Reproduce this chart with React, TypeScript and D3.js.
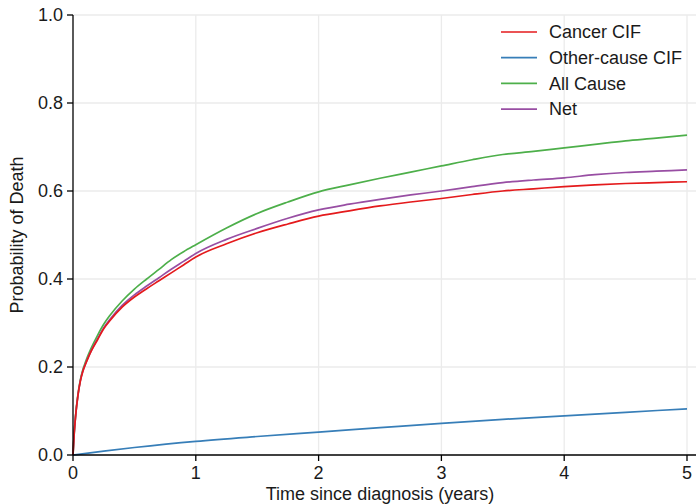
import React from "react";
import * as d3 from "d3";

const timesMain = [0, 0.01, 0.02, 0.04, 0.06, 0.08, 0.1, 0.125, 0.15, 0.2, 0.25, 0.3, 0.4, 0.5, 0.6, 0.7, 0.8, 0.9, 1.0, 1.25, 1.5, 1.75, 2, 2.25, 2.5, 2.75, 3, 3.25, 3.5, 3.75, 4, 4.25, 4.5, 4.75, 5];
const cancerCIF = [0, 0.05, 0.085, 0.135, 0.168, 0.19, 0.205, 0.222, 0.237, 0.262, 0.287, 0.305, 0.336, 0.359, 0.378, 0.396, 0.414, 0.432, 0.45, 0.48, 0.505, 0.525, 0.543, 0.555, 0.566, 0.575, 0.583, 0.592, 0.6, 0.605, 0.61, 0.614, 0.617, 0.619, 0.621];
const netValues = [0, 0.05, 0.085, 0.135, 0.169, 0.191, 0.206, 0.223, 0.238, 0.264, 0.289, 0.308, 0.34, 0.364, 0.384, 0.403, 0.422, 0.44, 0.458, 0.49, 0.515, 0.538, 0.557, 0.57, 0.581, 0.591, 0.6, 0.61, 0.619, 0.625, 0.63, 0.637, 0.642, 0.645, 0.648];
const allCause = [0, 0.05, 0.086, 0.137, 0.171, 0.194, 0.21, 0.228, 0.244, 0.272, 0.297, 0.317, 0.35, 0.377, 0.4, 0.422, 0.444, 0.462, 0.478, 0.516, 0.549, 0.575, 0.598, 0.614, 0.629, 0.643, 0.657, 0.671, 0.683, 0.69, 0.698, 0.706, 0.714, 0.72, 0.727];
const timesOther = [0, 0.25, 0.5, 1, 1.5, 2, 2.5, 3, 3.5, 4, 4.5, 5];
const otherCIF = [0, 0.009, 0.017, 0.031, 0.042, 0.052, 0.062, 0.072, 0.081, 0.089, 0.097, 0.105];

const xTicks = [0, 1, 2, 3, 4, 5];
const yTicks = [0, 0.2, 0.4, 0.6, 0.8, 1.0];

const seriesNames = ["Cancer CIF", "Other-cause CIF", "All Cause", "Net"];
const seriesColors = ["#e41a1c", "#377eb8", "#4daf4a", "#984ea3"];

export default function App() {
  const W = 696, H = 504;
  const left = 73, top = 15, bottom = 455;
  const x = d3.scaleLinear().domain([0, 5]).range([left, 687]);
  const y = d3.scaleLinear().domain([0, 1]).range([bottom, top]);
  const rightEdge = 696;

  const line = d3.line<[number, number]>().x(d => x(d[0])).y(d => y(d[1])).curve(d3.curveMonotoneX);
  const mk = (ts: number[], vs: number[]) => ts.map((t, i) => [t, vs[i]] as [number, number]);
  const series = [
    mk(timesMain, cancerCIF),
    mk(timesOther, otherCIF),
    mk(timesMain, allCause),
    mk(timesMain, netValues),
  ];
  const drawOrder = [1, 2, 3, 0];
  const font = "Liberation Sans, Arial, sans-serif";
  const fs = 18;

  return (
    <svg width={W} height={H} style={{ position: "absolute", left: 0, top: 0, background: "#fff" }} fontFamily={font}>
      {yTicks.filter(v => v > 0).map(v => (
        <line key={"gy" + v} x1={left} x2={rightEdge} y1={y(v)} y2={y(v)} stroke="#ebebeb" strokeWidth={1.3} />
      ))}
      {xTicks.filter(v => v > 0).map(v => (
        <line key={"gx" + v} x1={x(v)} x2={x(v)} y1={top} y2={bottom} stroke="#ebebeb" strokeWidth={1.3} />
      ))}
      {drawOrder.map(i => (
        <path key={"s" + i} d={line(series[i]) || ""} fill="none" stroke={seriesColors[i]} strokeWidth={1.7} />
      ))}
      <line x1={left} x2={left} y1={top} y2={bottom} stroke="#000" strokeWidth={1.3} />
      <line x1={left} x2={rightEdge} y1={bottom} y2={bottom} stroke="#000" strokeWidth={1.3} />
      {yTicks.map(v => (
        <g key={"yt" + v}>
          <line x1={left - 6} x2={left} y1={y(v)} y2={y(v)} stroke="#000" strokeWidth={1.3} />
          <text x={left - 10} y={y(v)} dy="0.35em" textAnchor="end" fontSize={fs} fill="#1a1a1a">{v.toFixed(1)}</text>
        </g>
      ))}
      {xTicks.map(v => (
        <g key={"xt" + v}>
          <line x1={x(v)} x2={x(v)} y1={bottom} y2={bottom + 6} stroke="#000" strokeWidth={1.3} />
          <text x={x(v)} y={479} textAnchor="middle" fontSize={fs} fill="#1a1a1a">{v}</text>
        </g>
      ))}
      <text x={(left + 687) / 2} y={500} textAnchor="middle" fontSize={fs} fill="#1a1a1a">Time since diagnosis (years)</text>
      <text transform={`translate(23, ${(top + bottom) / 2}) rotate(-90)`} textAnchor="middle" fontSize={fs} fill="#1a1a1a">Probability of Death</text>
      {seriesNames.map((n, i) => (
        <g key={"lg" + i} transform={`translate(501, ${32 + i * 25.7})`}>
          <line x1={0} x2={36} y1={0} y2={0} stroke={seriesColors[i]} strokeWidth={1.7} />
          <text x={48} y={0} dy="0.35em" fontSize={fs} fill="#1a1a1a">{n}</text>
        </g>
      ))}
    </svg>
  );
}
